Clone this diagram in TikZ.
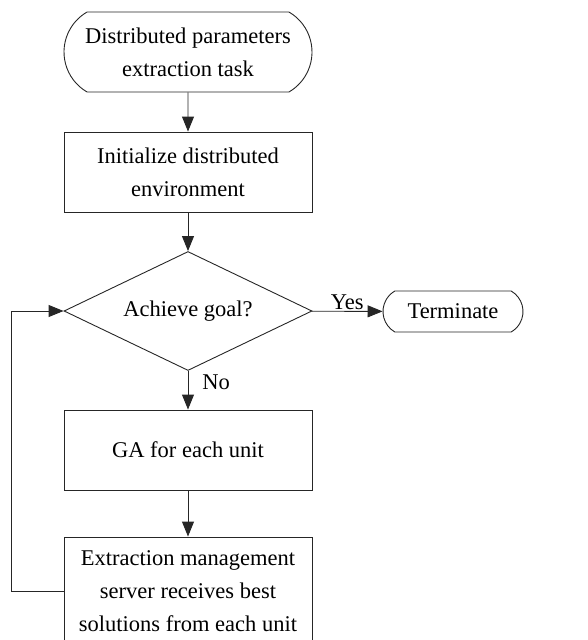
\documentclass[tikz,border=0pt]{standalone}
\usepackage{fontspec}
\setmainfont{Liberation Serif}
\usetikzlibrary{shapes.geometric,shapes.misc,arrows.meta}

\begin{document}
\begin{tikzpicture}[x=1pt,y=-1pt,
    font=\fontsize{22.5}{33}\selectfont,
    flow/.style={draw=black!85, line width=0.9pt, -{Triangle[length=15pt,width=12pt]}},
    term/.style={draw=black!85, line width=0.9pt, rounded rectangle,
        rounded rectangle arc length=120, align=center, inner sep=0pt},
    proc/.style={draw=black!85, line width=0.9pt, rectangle, minimum width=248pt,
        minimum height=80pt, align=center, inner sep=0pt},
    decide/.style={draw=black!85, line width=0.9pt, diamond, aspect=2.08,
        minimum width=248pt, minimum height=119pt, inner sep=0pt}]
    \useasboundingbox (0,0) rectangle (587,640);
    % Boxes
    \node[term, minimum width=248pt, minimum height=80pt] (task) at (188,52)
        {Distributed parameters\\extraction task};
    \node[proc] (init) at (188,172) {Initialize distributed\\environment};
    \node[decide] (goal) at (188,311) {Achieve goal?};
    \node[term, minimum width=140pt, minimum height=41pt] (stop) at (453,311.5) {Terminate};
    \node[proc] (ga) at (188,450) {GA for each unit};
    \node[proc, minimum height=108pt] (server) at (188,591)
        {Extraction management\\server receives best\\solutions from each unit};
    % Arrows
    \draw[flow] (task) -- (init);
    \draw[flow] (init) -- (goal);
    \draw[flow] (goal) -- (stop) node[midway, above, inner sep=2pt, yshift=-1pt] {Yes};
    \draw[flow] (goal) -- (ga) node[pos=0.28, right, inner sep=2pt, xshift=12pt] {No};
    \draw[flow] (ga) -- (server);
    % Loop back
    \draw[flow] (server.west) -- ++(-52,0) |- (goal.west);
\end{tikzpicture}
\end{document}
